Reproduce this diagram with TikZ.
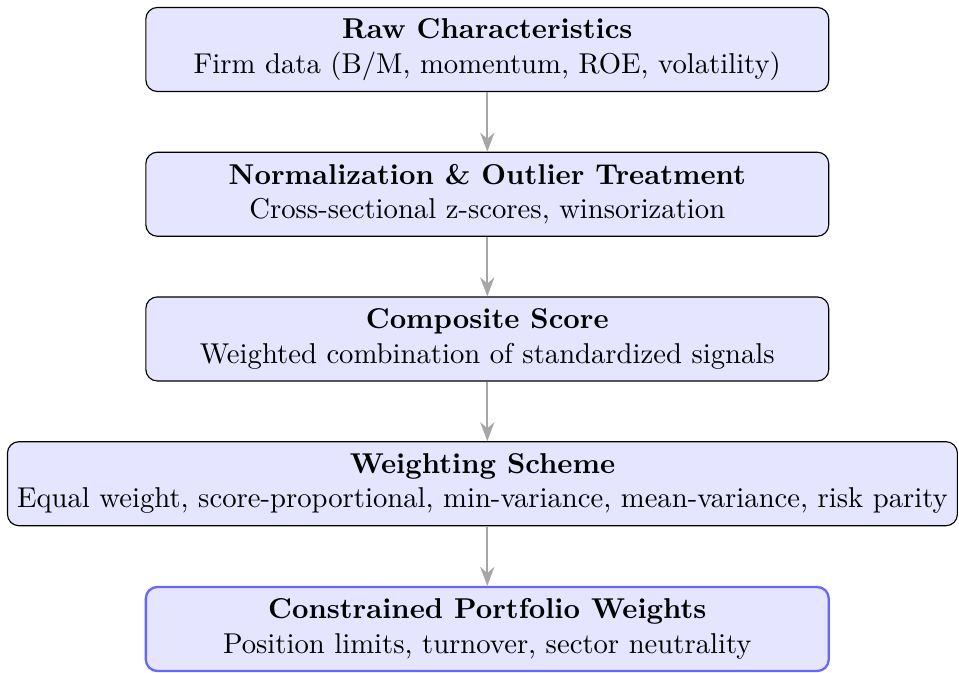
\documentclass[tikz,border=0pt]{standalone}
\usepackage{tikz}
\usetikzlibrary{positioning,arrows.meta}

\begin{document}
\begin{tikzpicture}[
	node distance=0.73cm,
	stage/.style={ % one step of the pipeline
		draw, rounded corners, fill=blue!10,
		minimum width=8.37cm, minimum height=1.03cm,
		align=center
	},
	final/.style={stage, draw=blue!60, thick},
	flow/.style={-Stealth, draw=gray!70, thick}
]
	%% the five stages, top to bottom
	\node[stage] (raw) {\textbf{Raw Characteristics}\\Firm data (B/M, momentum, ROE, volatility)};
	\node[stage, below=of raw] (norm) {\textbf{Normalization \& Outlier Treatment}\\Cross-sectional z-scores, winsorization};
	\node[stage, below=of norm] (comp) {\textbf{Composite Score}\\Weighted combination of standardized signals};
	\node[stage, below=of comp, xshift=-1.7pt] (wgt) {\textbf{Weighting Scheme}\\Equal weight, score-proportional, min-variance, mean-variance, risk parity};
	\node[final, below=of wgt, xshift=1.7pt] (port) {\textbf{Constrained Portfolio Weights}\\Position limits, turnover, sector neutrality};
	% arrows between stages
	\draw[flow] (raw) -- (norm);
	\draw[flow] (norm) -- (comp);
	\draw[flow] (comp) -- (comp |- wgt.north);
	\draw[flow] (port |- wgt.south) -- (port);
	% frame as in the original, last box slightly cut
	\useasboundingbox ([xshift=-2.4pt, yshift=2.4pt]wgt.west |- raw.north)
		rectangle ([xshift=0.35pt, yshift=0.7pt]wgt.east |- port.south);
\end{tikzpicture}
\end{document}
